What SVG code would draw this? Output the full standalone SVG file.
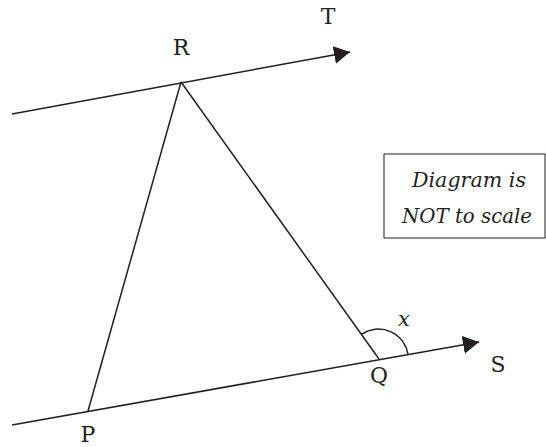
<svg xmlns="http://www.w3.org/2000/svg" width="546" height="447" viewBox="0 0 546 447">
<style>
.ln{stroke:#231f20;stroke-width:1.5;fill:none}
.lbl{font-family:'DejaVu Serif','Liberation Serif',serif;font-size:22px;fill:#231f20;text-anchor:middle}
.note{font-family:'DejaVu Serif','Liberation Serif',serif;font-size:21px;font-style:italic;fill:#231f20;text-anchor:middle}
</style>
<defs>
<marker id="arr" markerWidth="16" markerHeight="18" refX="16" refY="9" orient="auto" markerUnits="userSpaceOnUse">
<path d="M0,0 L16,9 L0,18 Z" fill="#231f20"/>
</marker>
</defs>
<g id="connectors">
<line class="ln" x1="12" y1="114" x2="350" y2="52" marker-end="url(#arr)"/>
<line class="ln" x1="12" y1="425" x2="479" y2="342" marker-end="url(#arr)"/>
<line class="ln" x1="181" y1="82" x2="88" y2="411"/>
<line class="ln" x1="181" y1="82" x2="379" y2="359"/>
<path class="ln" d="M362,334 A30,30 0 0 1 408,354"/>
</g>
<g id="R"><text class="lbl" x="181" y="55">R</text></g>
<g id="T"><text class="lbl" x="328" y="24">T</text></g>
<g id="P"><text class="lbl" x="88" y="442">P</text></g>
<g id="Q"><text class="lbl" x="379" y="383">Q</text></g>
<g id="S"><text class="lbl" x="498" y="372">S</text></g>
<g id="x"><text class="note" x="404" y="326" font-size="22">x</text></g>
<g id="note">
<rect x="384" y="154" width="161" height="84" fill="#fff" stroke="#231f20" stroke-width="1"/>
<text class="note" x="469" y="187" textLength="114" lengthAdjust="spacingAndGlyphs">Diagram is</text>
<text class="note" x="467" y="223" textLength="130" lengthAdjust="spacingAndGlyphs">NOT to scale</text>
</g>
</svg>
